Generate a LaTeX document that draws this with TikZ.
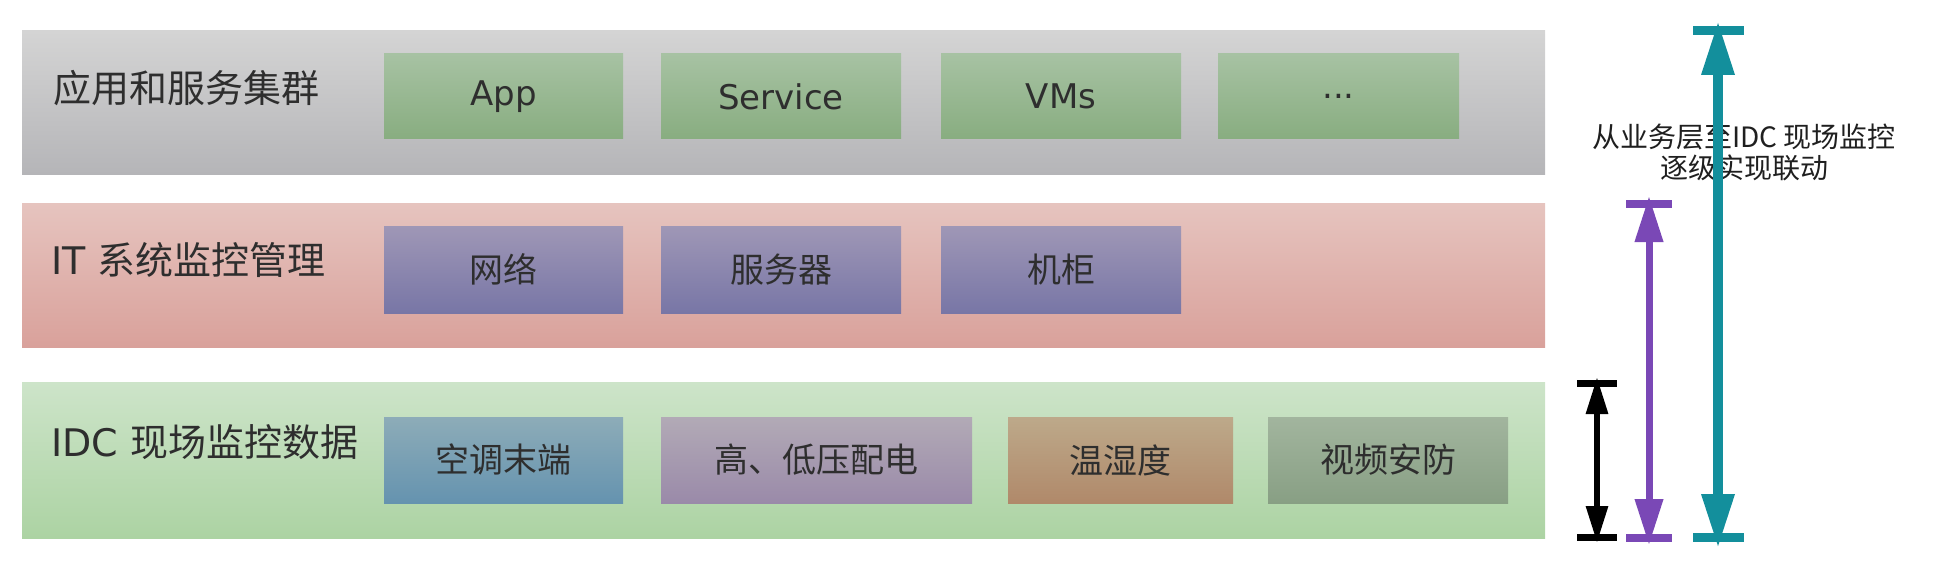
\documentclass[tikz,border=0pt]{standalone}
\usepackage{fontspec}
\setmainfont{DejaVu Sans}
\newfontfamily\cjk{Noto Sans CJK SC}
\usetikzlibrary{arrows.meta}
\definecolor{txt}{HTML}{2E2E2E}
\definecolor{tealc}{HTML}{138F9C}
\definecolor{purc}{HTML}{7A48B6}
\definecolor{grayT}{HTML}{D4D4D4}
\definecolor{grayB}{HTML}{B5B5B8}
\definecolor{redT}{HTML}{E6C4BF}
\definecolor{redB}{HTML}{D9A19B}
\definecolor{grnT}{HTML}{CDE4C9}
\definecolor{grnB}{HTML}{ACD3A3}
\definecolor{appT}{HTML}{A7C2A3}
\definecolor{appB}{HTML}{88AD80}
\definecolor{itT}{HTML}{9F97B6}
\definecolor{itB}{HTML}{7876A6}
\definecolor{acT}{HTML}{8DACB8}
\definecolor{acB}{HTML}{6593AF}
\definecolor{pwT}{HTML}{B2AAB6}
\definecolor{pwB}{HTML}{9A8AA9}
\definecolor{thT}{HTML}{BDA98A}
\definecolor{thB}{HTML}{B0896A}
\definecolor{vdT}{HTML}{A2B59E}
\definecolor{vdB}{HTML}{889F84}
\tikzset{
  shbox/.style n args={4}{draw=none, inner sep=0pt, outer sep=0pt,
    minimum width=#1, minimum height=#2, top color=#3, bottom color=#4,
    text=txt, font=\fontsize{17pt}{20pt}\selectfont},
  bandlabel/.style={anchor=west, inner sep=0pt, text=txt,
    font=\fontsize{19pt}{23pt}\selectfont},
  barline/.style={line width=#1, line cap=butt},
}
\begin{document}
\begin{tikzpicture}[x=0.5pt,y=-0.5pt]
\useasboundingbox (0,0) rectangle (1943,567);
% bands
\node[shbox={761.5pt}{71.5pt}{grayT}{grayB}] (bandA) at (783.5,102.5) {};
\node[shbox={761.5pt}{72pt}{redT}{redB}] (bandB) at (783.5,275) {};
\node[shbox={761.5pt}{78pt}{grnT}{grnB}] (bandC) at (783.5,460) {};
% band labels
\node[bandlabel] (labA) at (53,88) {\cjk 应用和服务集群};
\node[bandlabel] (labB) at (51,260) {IT {\cjk 系统监控管理}};
\node[bandlabel] (labC) at (51,442) {IDC {\cjk 现场监控数据}};
% top row
\node[shbox={119.5pt}{42.5pt}{appT}{appB}] (app) at (503.5,96.5) {App};
\node[shbox={120pt}{42.5pt}{appT}{appB}] (svc) at (781,96.5) {Service};
\node[shbox={120pt}{42.5pt}{appT}{appB}] (vms) at (1061,96.5) {VMs};
\node[shbox={120.5pt}{42.5pt}{appT}{appB}] (more) at (1338.5,96.5) {...};
% middle row
\node[shbox={119.5pt}{43.5pt}{itT}{itB}] (net) at (503.5,269.5) {\cjk 网络};
\node[shbox={120pt}{43.5pt}{itT}{itB}] (srv) at (781,269.5) {\cjk 服务器};
\node[shbox={120pt}{43.5pt}{itT}{itB}] (rack) at (1061,269.5) {\cjk 机柜};
% bottom row
\node[shbox={119.5pt}{43pt}{acT}{acB}] (ac) at (503.5,460) {\cjk 空调末端};
\node[shbox={155.5pt}{43pt}{pwT}{pwB}] (pw) at (816.5,460) {\cjk 高、低压配电};
\node[shbox={112.5pt}{43pt}{thT}{thB}] (th) at (1120.5,460) {\cjk 温湿度};
\node[shbox={120pt}{43pt}{vdT}{vdB}] (vd) at (1388,460) {\cjk 视频安防};
% right text
\node[align=center, inner sep=0pt, text=black!88,
  font=\cjk\fontsize{14pt}{15.5pt}\selectfont] (note) at (1744,152.5)
  {从业务层至IDC 现场监控\\逐级实现联动};
% coordinates for the arrows
\coordinate (kTL) at (1577,383); \coordinate (kTR) at (1617,383);
\coordinate (kBL) at (1577,537.5); \coordinate (kBR) at (1617,537.5);
\coordinate (kTop) at (1597,377); \coordinate (kBot) at (1597,543);
\coordinate (pTL) at (1626,204); \coordinate (pTR) at (1672,204);
\coordinate (pBL) at (1626,537.5); \coordinate (pBR) at (1672,537.5);
\coordinate (pTop) at (1649,196); \coordinate (pBot) at (1649,545);
\coordinate (tTL) at (1693,30.5); \coordinate (tTR) at (1744,30.5);
\coordinate (tBL) at (1693,537.5); \coordinate (tBR) at (1744,537.5);
\coordinate (tTop) at (1718,21); \coordinate (tBot) at (1718,548);
% black
\draw[barline=3.5pt, black] (kTL) -- (kTR);
\draw[barline=3.5pt, black] (kBL) -- (kBR);
\draw[line width=3pt, black, {Triangle[length=18.5pt,width=10.5pt]}-{Triangle[length=18.5pt,width=10.5pt]}] (kTop) -- (kBot);
% purple
\draw[barline=4pt, purc] (pTL) -- (pTR);
\draw[barline=4pt, purc] (pBL) -- (pBR);
\draw[line width=3.5pt, purc, {Triangle[length=23pt,width=13.5pt]}-{Triangle[length=23pt,width=13.5pt]}] (pTop) -- (pBot);
% teal
\draw[barline=4.5pt, tealc] (tTL) -- (tTR);
\draw[barline=4.5pt, tealc] (tBL) -- (tBR);
\draw[line width=4.75pt, tealc, {Triangle[length=27pt,width=15.5pt]}-{Triangle[length=27pt,width=15.5pt]}] (tTop) -- (tBot);
\end{tikzpicture}
\end{document}
